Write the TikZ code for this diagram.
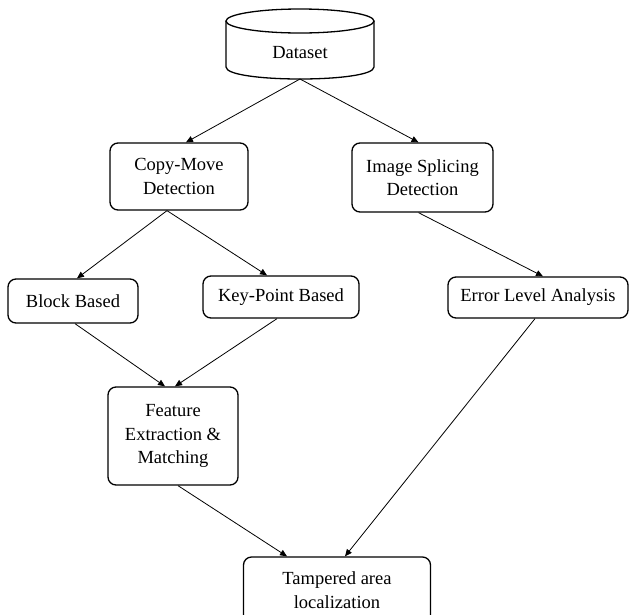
\documentclass[tikz,border=0pt]{standalone}
\usepackage{fontspec}
\setmainfont{Liberation Serif}
\usetikzlibrary{arrows.meta,calc}
\begin{document}
\begin{tikzpicture}[x=1pt,y=-1pt,
  box/.style={draw, rounded corners=8pt, line width=1.3pt, align=center, inner sep=0pt,
    font=\fontsize{18.5}{23.5}\selectfont},
  conn/.style={line width=0.8pt, -{Triangle[length=7pt,width=6pt]}}]
\useasboundingbox (0,0) rectangle (635,614);
% Dataset cylinder
\draw[line width=1.3pt] (300,21) ellipse [x radius=74, y radius=12];
\draw[line width=1.3pt] (226,21) -- (226,67) .. controls (226,83) and (374,83) .. (374,67) -- (374,21);
\node[font=\fontsize{18.5}{23.5}\selectfont] (ds) at (300,53) {Dataset};
\coordinate (dsb) at (300,79);
% boxes
\node[box, minimum width=138pt, minimum height=67pt] (cm) at (179,176.5) {Copy-Move\\Detection};
\node[box, minimum width=141pt, minimum height=69pt] (is) at (422.5,177.5) {Image Splicing\\Detection};
\node[box, minimum width=130pt, minimum height=44pt] (bb) at (73,301) {Block Based};
\node[box, minimum width=156pt, minimum height=42pt] (kp) at (281,297) {Key-Point Based};
\node[box, minimum width=180pt, minimum height=41pt] (el) at (538,297.5) {Error Level Analysis};
\node[box, minimum width=130pt, minimum height=98pt] (fe) at (173,436) {Feature\\Extraction \&\\Matching};
\node[box, minimum width=187pt, minimum height=66pt] (ta) at (337,590) {Tampered area\\localization};
% connectors
\draw[conn] (dsb) -- ($(cm.north)+(7,0)$);
\draw[conn] (dsb) -- ($(is.north)+(-4,0)$);
\draw[conn] ($(cm.south)+(-12,0)$) -- ($(bb.north)+(4,0)$);
\draw[conn] ($(cm.south)+(-12,0)$) -- ($(kp.north)+(-14,0)$);
\draw[conn] ($(is.south)+(-4,0)$) -- ($(el.north)+(5,0)$);
\draw[conn] ($(bb.south)+(2,0)$) -- ($(fe.north)+(-8,0)$);
\draw[conn] ($(kp.south)+(-4,0)$) -- ($(fe.north)+(2,0)$);
\draw[conn] ($(fe.south)+(5,0)$) -- ($(ta.north)+(-50,0)$);
\draw[conn] ($(el.south)+(-3,0)$) -- ($(ta.north)+(8,0)$);
\end{tikzpicture}
\end{document}
